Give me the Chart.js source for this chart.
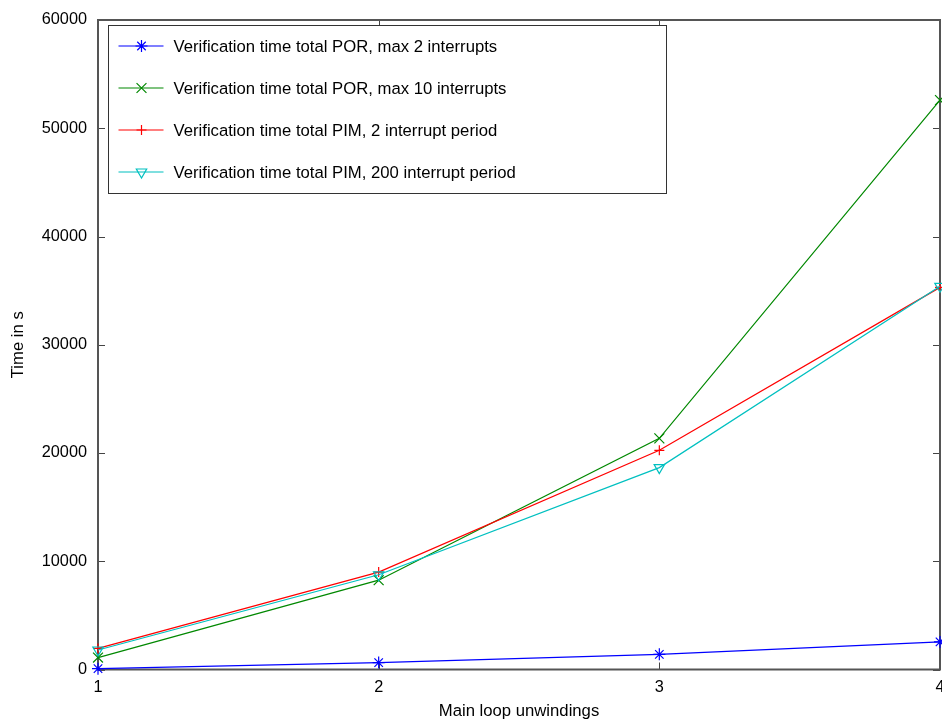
<!DOCTYPE html>
<html>
<head>
<meta charset="utf-8">
<script src="https://cdn.jsdelivr.net/npm/chart.js@4/dist/chart.umd.min.js"></script>
<style>
  html, body { margin: 0; padding: 0; background: #fff; }
  #c { display: block; }
</style>
</head>
<body>
<canvas id="c" width="942" height="720"></canvas>
<script>
// Main loop unwindings (x) and verification times in seconds (y)
const unwindings = [1, 2, 3, 4];
const porMax2 = [80, 640, 1400, 2550];
const porMax10 = [1100, 8250, 21350, 52600];
const pim2 = [1950, 9000, 20250, 35300];
const pim200 = [1800, 8750, 18650, 35400];
const yTicks = [0, 10000, 20000, 30000, 40000, 50000, 60000];

const seriesLabels = [
  'Verification time total POR, max 2 interrupts',
  'Verification time total POR, max 10 interrupts',
  'Verification time total PIM, 2 interrupt period',
  'Verification time total PIM, 200 interrupt period'
];

const FONT = 'Liberation Sans, Arial, Helvetica, sans-serif';

function pts(vals) { return vals.map((v, i) => ({ x: unwindings[i], y: v })); }

function series(i, vals, color, style, radius, rotation, order) {
  return {
    label: seriesLabels[i],
    data: pts(vals),
    borderColor: color,
    backgroundColor: 'rgba(0,0,0,0)',
    borderWidth: 1.2,
    pointStyle: style,
    pointRadius: radius,
    pointHoverRadius: radius,
    pointRotation: rotation,
    pointBorderColor: color,
    pointBackgroundColor: 'rgba(0,0,0,0)',
    pointBorderWidth: 1.2,
    tension: 0,
    fill: false,
    clip: false,
    order: order
  };
}

// Marker drawing, used for the key samples
function marker(ctx, ds, x, y) {
  const h = Chart.helpers;
  if (h && h.drawPoint) {
    ctx.strokeStyle = ds.pointBorderColor;
    ctx.fillStyle = ds.pointBackgroundColor;
    ctx.lineWidth = ds.pointBorderWidth;
    h.drawPoint(ctx, { pointStyle: ds.pointStyle, rotation: ds.pointRotation, radius: ds.pointRadius, borderWidth: ds.pointBorderWidth }, x, y);
  }
}

// Boxed border with inward ticks on all four sides (mirrored)
const framePlugin = {
  id: 'frame',
  beforeDatasetsDraw(chart) {
    const { ctx, chartArea: a, scales: { x, y } } = chart;
    const len = 7;
    ctx.save();
    ctx.strokeStyle = '#444';
    ctx.lineWidth = 1;
    ctx.beginPath();
    x.ticks.forEach(t => {
      const px = Math.round(x.getPixelForValue(t.value)) + 0.5;
      ctx.moveTo(px, a.bottom); ctx.lineTo(px, a.bottom - len);
      ctx.moveTo(px, a.top); ctx.lineTo(px, a.top + len);
    });
    y.ticks.forEach(t => {
      const py = Math.round(y.getPixelForValue(t.value)) + 0.5;
      ctx.moveTo(a.left, py); ctx.lineTo(a.left + len, py);
      ctx.moveTo(a.right, py); ctx.lineTo(a.right - len, py);
    });
    ctx.stroke();
    ctx.strokeStyle = '#555';
    ctx.lineWidth = 2;
    ctx.strokeRect(a.left, a.top, a.right - a.left, a.bottom - a.top);
    ctx.restore();
  }
};

// Key box in the upper left of the plot
const keyPlugin = {
  id: 'keybox',
  afterDatasetsDraw(chart) {
    const { ctx, chartArea: a } = chart;
    const bx = a.left + 10.5, by = a.top + 5.5, bw = 558, bh = 168;
    ctx.save();
    ctx.fillStyle = '#fff';
    ctx.fillRect(bx, by, bw, bh);
    ctx.strokeStyle = '#333';
    ctx.lineWidth = 1;
    ctx.strokeRect(bx, by, bw, bh);
    chart.data.datasets.forEach((ds, i) => {
      const ry = by + 20.5 + 42 * i;
      ctx.strokeStyle = ds.borderColor;
      ctx.lineWidth = ds.borderWidth;
      ctx.beginPath();
      ctx.moveTo(bx + 10, ry); ctx.lineTo(bx + 55, ry);
      ctx.stroke();
      marker(ctx, ds, bx + 33, ry);
      ctx.fillStyle = '#000';
      ctx.font = '16.7px ' + FONT;
      ctx.textAlign = 'left';
      ctx.textBaseline = 'middle';
      ctx.fillText(ds.label, bx + 65, ry + 1);
    });
    ctx.restore();
  }
};

new Chart(document.getElementById('c'), {
  type: 'line',
  data: {
    datasets: [
      series(0, porMax2, '#0000ff', 'star', 6, 0, 3),
      series(1, porMax10, '#008800', 'crossRot', 7, 0, 2),
      series(2, pim2, '#ff0000', 'cross', 5, 0, 1),
      series(3, pim200, '#00c0c0', 'triangle', 6, 180, 0)
    ]
  },
  options: {
    responsive: false,
    animation: false,
    devicePixelRatio: 1,
    layout: { autoPadding: false, padding: { top: 20, right: 2, left: 0, bottom: 0 } },
    plugins: {
      legend: { display: false },
      tooltip: { enabled: false }
    },
    scales: {
      x: {
        type: 'linear',
        min: 1, max: 4,
        grid: { display: false, drawTicks: false },
        border: { display: false },
        ticks: {
          stepSize: 1,
          padding: 8,
          color: '#000',
          font: { family: FONT, size: 16.3 },
          maxRotation: 0,
          callback: v => String(v)
        },
        title: {
          display: true,
          text: 'Main loop unwindings',
          color: '#000',
          font: { family: FONT, size: 16.7, lineHeight: 1 },
          padding: { top: 0, bottom: 0 }
        },
        afterFit: s => { s.height = 50.5; s.paddingLeft = 0; s.paddingRight = 0; }
      },
      y: {
        type: 'linear',
        min: 0, max: 60000,
        grid: { display: false, drawTicks: false },
        border: { display: false },
        afterBuildTicks: s => { s.ticks = yTicks.map(v => ({ value: v })); },
        ticks: {
          padding: 11,
          color: '#000',
          font: { family: FONT, size: 16.3 },
          callback: v => String(v)
        },
        title: {
          display: true,
          text: 'Time in s',
          color: '#000',
          font: { family: FONT, size: 16.7, lineHeight: 1 },
          padding: { top: 10.5, bottom: 0 }
        },
        afterFit: s => { s.width = 98; s.paddingTop = 0; s.paddingBottom = 0; }
      }
    }
  },
  plugins: [framePlugin, keyPlugin]
});
</script>
</body>
</html>
